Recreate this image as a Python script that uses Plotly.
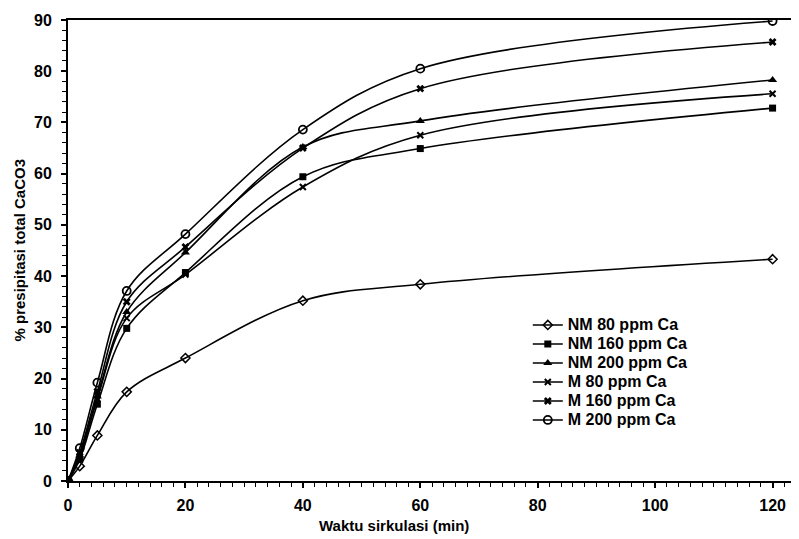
import plotly.graph_objects as go

# ---- data ----
waktu = [0, 2, 5, 10, 20, 40, 60, 120]
series_names = ["NM 80 ppm Ca", "NM 160 ppm Ca", "NM 200 ppm Ca",
                "M 80 ppm Ca", "M 160 ppm Ca", "M 200 ppm Ca"]
nm80 = [0, 2.9, 8.9, 17.4, 24.0, 35.2, 38.4, 43.3]
nm160 = [0, 4.2, 15.0, 29.8, 40.7, 59.4, 64.9, 72.8]
nm200 = [0, 5.0, 16.5, 33.0, 44.6, 65.2, 70.3, 78.3]
m80 = [0, 4.8, 16.0, 31.8, 40.3, 57.4, 67.5, 75.6]
m160 = [0, 5.5, 17.5, 35.0, 45.7, 65.0, 76.6, 85.7]
m200 = [0, 6.4, 19.2, 37.1, 48.2, 68.6, 80.5, 89.8]
x_ticks = [0, 20, 40, 60, 80, 100, 120]
y_ticks = [0, 10, 20, 30, 40, 50, 60, 70, 80, 90]

values = [nm80, nm160, nm200, m80, m160, m200]
markers = [
    dict(symbol="diamond-open", size=7, line=dict(width=1.5, color="black")),
    dict(symbol="square", size=7),
    dict(symbol="triangle-up", size=8),
    dict(symbol="x-thin-open", size=6, line=dict(width=2, color="black")),
    dict(symbol="x", size=7),
    dict(symbol="circle-open", size=8, line=dict(width=1.8, color="black")),
]

FONT = "Liberation Sans, Arial, sans-serif"

fig = go.Figure()
for name, vals, mk in zip(series_names, values, markers):
    fig.add_trace(go.Scatter(
        x=waktu, y=vals, mode="lines+markers",
        name="<span style='font-size:16px'>" + name + "</span>",
        line=dict(color="black", width=1.6, shape="spline", smoothing=1),
        marker=dict(color="black", **mk),
    ))

# the page body has an 8px margin, so the figure is drawn 8px in from the corner
fig.update_layout(
    width=791, height=531,
    margin=dict(l=60, r=0, t=12, b=58),
    paper_bgcolor="white", plot_bgcolor="white",
    font=dict(family=FONT, color="black", size=16, weight="bold"),
    showlegend=True,
    legend=dict(
        x=0.629, y=0.37, xanchor="left", yanchor="top",
        font=dict(family=FONT, size=12, color="black", weight="bold"),
        bgcolor="rgba(0,0,0,0)", borderwidth=0, itemwidth=30,
    ),
    xaxis=dict(
        range=[0, 124.5], tickvals=x_ticks, ticktext=[str(v) for v in x_ticks],
        showgrid=False, zeroline=False,
        showline=True, linecolor="black", linewidth=2, mirror=True,
        ticks="outside", ticklen=5, tickwidth=1.5, tickcolor="black",
        minor=dict(dtick=2, ticks="outside", ticklen=4, tickwidth=1.2, tickcolor="black"),
        tickfont=dict(family=FONT, size=16, weight="bold"),
        ticklabelstandoff=4,
    ),
    yaxis=dict(
        range=[0, 90], tickvals=y_ticks, ticktext=[str(v) for v in y_ticks],
        showgrid=False, zeroline=False,
        showline=True, linecolor="black", linewidth=2,
        ticks="outside", ticklen=5, tickwidth=1.5, tickcolor="black",
        minor=dict(dtick=2, ticks="outside", ticklen=4, tickwidth=1.2, tickcolor="black"),
        tickfont=dict(family=FONT, size=16, weight="bold"),
        ticklabelstandoff=6,
    ),
    annotations=[
        dict(text="% presipitasi total CaCO3", textangle=-90,
             xref="paper", yref="paper", x=-0.067, y=0.5,
             xanchor="center", yanchor="middle", showarrow=False,
             font=dict(family=FONT, size=15, weight="bold")),
        dict(text="Waktu sirkulasi (min)",
             xref="paper", yref="paper", x=(394 - 68) / 731, y=-0.097,
             xanchor="center", yanchor="middle", showarrow=False,
             font=dict(family=FONT, size=15, weight="bold")),
    ],
)

fig.write_html("out.html")
